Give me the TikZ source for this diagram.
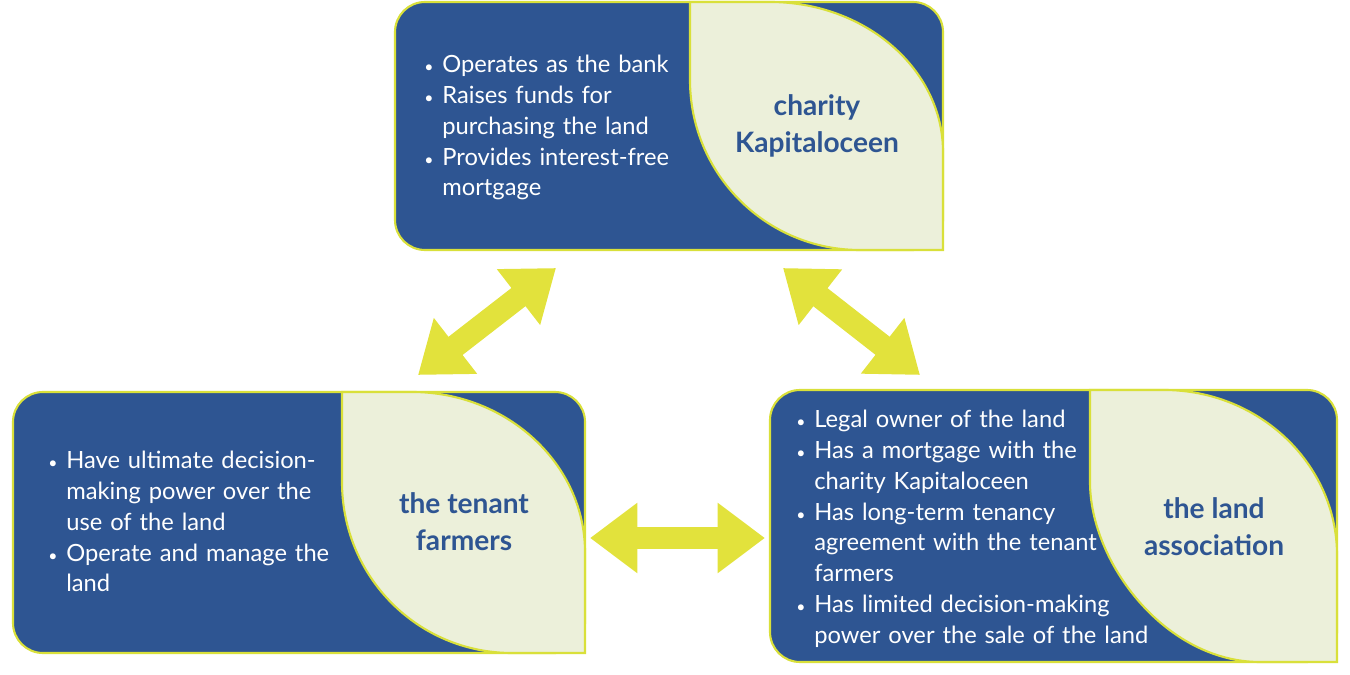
\documentclass[tikz,border=0pt]{standalone}
\usepackage{fontspec}
\setmainfont{Lato}
\usepackage{enumitem}
\usetikzlibrary{arrows.meta}
\definecolor{boxblue}{HTML}{2E5592}
\definecolor{leafcream}{HTML}{ECF0DA}
\definecolor{lime}{HTML}{D9E03A}
\definecolor{arrowlime}{HTML}{E2E23C}
\newcommand{\pointlist}[1]{%
  \begin{itemize}[leftmargin=0.4cm,itemsep=0pt,parsep=0pt,topsep=0pt,label={\small\textbullet}]#1\end{itemize}}
\begin{document}
\begin{tikzpicture}
    [x=0.02cm,y=-0.02cm,
    % Styles
    panel/.style={draw=lime,fill=boxblue,line width=1.2pt,rounded corners=0.6cm},
    leaf/.style={draw=lime,fill=leafcream,line width=1.2pt},
    points/.style={anchor=north west,inner sep=0pt,text=white,text width=#1,
      font=\fontsize{13.5}{17.6}\selectfont},
    title/.style={text=boxblue,align=center,font=\fontsize{16}{21}\selectfont\bfseries},
    link/.style={arrowlime,line width=0.46cm,
      {Triangle[length=0.95cm,width=1.35cm]}-{Triangle[length=0.95cm,width=1.35cm]}}]
    \useasboundingbox (0,0) rectangle (1350,675);
    % Panels
    \draw[panel] (395,2) rectangle (943,250);
    \draw[leaf] (690,2) -- (770,2) .. controls (865,2) and (943,69) .. (943,152)
      -- (943,250) -- (860,250) .. controls (766,250) and (690,174) .. (690,80) -- cycle;
    \draw[panel] (13,392) rectangle (585,653);
    \draw[leaf] (342,392) -- (412,392) .. controls (507,392) and (585,464) .. (585,552)
      -- (585,653) -- (512,653) .. controls (418,653) and (342,577) .. (342,482) -- cycle;
    \draw[panel] (770,390) rectangle (1337,662);
    \draw[leaf] (1090,390) -- (1164,390) .. controls (1259,390) and (1337,464) .. (1337,555)
      -- (1337,662) -- (1260,662) .. controls (1166,662) and (1090,563) .. (1090,482) -- cycle;
    % Titles
    \node[title] (charity) at (817,126) {charity\\Kapitaloceen};
    \node[title] (farmers) at (464,522) {the tenant\\farmers};
    \node[title] (assoc) at (1214,527) {the land\\association};
    % Bullet lists
    \node[points=5.4cm] (charity list) at (422,41) {\pointlist{
      \item Operates as the bank
      \item Raises funds for\newline purchasing the land
      \item Provides interest-free\newline mortgage}};
    \node[points=6.4cm] (farmers list) at (46,437) {\pointlist{
      \item Have ultimate decision-\newline making power over the\newline use of the land
      \item Operate and manage the\newline land}};
    \node[points=7.4cm] (assoc list) at (794,396) {\pointlist{
      \item Legal owner of the land
      \item Has a mortgage with the\newline charity Kapitaloceen
      \item Has long-term tenancy\newline agreement with the tenant\newline farmers
      \item Has limited decision-making\newline power over the sale of the land}};
    % Arrows
    \coordinate (tl a) at (418,375);
    \coordinate (tl b) at (556,268);
    \coordinate (tr a) at (783,268);
    \coordinate (tr b) at (920,375);
    \coordinate (mid a) at (590,538);
    \coordinate (mid b) at (765,538);
    \draw[link] (tl a) -- (tl b);
    \draw[link] (tr a) -- (tr b);
    \draw[link] (mid a) -- (mid b);
\end{tikzpicture}
\end{document}
